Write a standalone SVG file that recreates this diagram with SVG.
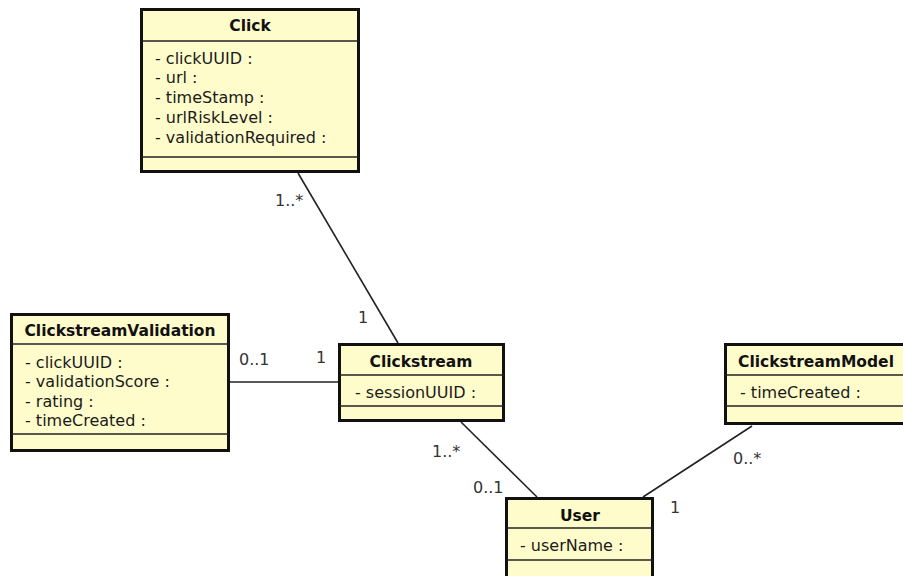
<svg xmlns="http://www.w3.org/2000/svg" width="903" height="576" viewBox="0 0 903 576">
  <style>
    .box { fill: #fffccc; stroke: #111; stroke-width: 3; }
    .div { stroke: #222; stroke-width: 1.5; }
    .title { font-family: "DejaVu Sans", "Liberation Sans", sans-serif; font-size: 15.5px; font-weight: bold; fill: #111; text-anchor: middle; }
    .attr { font-family: "DejaVu Sans", "Liberation Sans", sans-serif; font-size: 16px; fill: #1a1a1a; }
    .mult { font-family: "DejaVu Sans", "Liberation Sans", sans-serif; font-size: 16px; fill: #333; }
    .assoc { stroke: #222; stroke-width: 1.6; fill: none; }
  </style>
  <rect width="903" height="576" fill="#ffffff"/>

  <!-- associations -->
  <g id="connectors">
    <line class="assoc" x1="298" y1="173" x2="398" y2="343"/>
    <line class="assoc" x1="230" y1="382" x2="338" y2="382"/>
    <line class="assoc" x1="461" y1="422" x2="537" y2="497"/>
    <line class="assoc" x1="643" y1="497" x2="752" y2="426"/>
    <text class="mult" x="275" y="206">1..*</text>
    <text class="mult" x="358" y="323">1</text>
    <text class="mult" x="239" y="365">0..1</text>
    <text class="mult" x="316" y="363">1</text>
    <text class="mult" x="432" y="457">1..*</text>
    <text class="mult" x="473" y="493">0..1</text>
    <text class="mult" x="670" y="513">1</text>
    <text class="mult" x="733" y="464">0..*</text>
  </g>

  <g id="click">
    <rect class="box" x="141.5" y="9.5" width="217" height="162"/>
    <line class="div" x1="141.5" y1="41" x2="358.5" y2="41"/>
    <line class="div" x1="141.5" y1="157" x2="358.5" y2="157"/>
    <text class="title" x="250" y="31">Click</text>
    <text class="attr" x="155" y="64">- clickUUID :</text>
    <text class="attr" x="155" y="83">- url :</text>
    <text class="attr" x="155" y="103">- timeStamp :</text>
    <text class="attr" x="155" y="123">- urlRiskLevel :</text>
    <text class="attr" x="155" y="143">- validationRequired :</text>
  </g>

  <g id="clickstreamValidation">
    <rect class="box" x="11.5" y="314.5" width="217" height="136"/>
    <line class="div" x1="11.5" y1="344" x2="228.5" y2="344"/>
    <line class="div" x1="11.5" y1="434" x2="228.5" y2="434"/>
    <text class="title" x="120" y="336">ClickstreamValidation</text>
    <text class="attr" x="25" y="368">- clickUUID :</text>
    <text class="attr" x="25" y="387">- validationScore :</text>
    <text class="attr" x="25" y="407">- rating :</text>
    <text class="attr" x="25" y="426">- timeCreated :</text>
  </g>

  <g id="clickstream">
    <rect class="box" x="339.5" y="344.5" width="164" height="76"/>
    <line class="div" x1="339.5" y1="375" x2="503.5" y2="375"/>
    <line class="div" x1="339.5" y1="406" x2="503.5" y2="406"/>
    <text class="title" x="421" y="367">Clickstream</text>
    <text class="attr" x="355" y="398">- sessionUUID :</text>
  </g>

  <g id="clickstreamModel">
    <rect class="box" x="725.5" y="344.5" width="190" height="79"/>
    <line class="div" x1="725.5" y1="375" x2="915" y2="375"/>
    <line class="div" x1="725.5" y1="406" x2="915" y2="406"/>
    <text class="title" x="816" y="367">ClickstreamModel</text>
    <text class="attr" x="740" y="398">- timeCreated :</text>
  </g>

  <g id="user">
    <rect class="box" x="506.5" y="498.5" width="146" height="100"/>
    <line class="div" x1="506.5" y1="528" x2="652.5" y2="528"/>
    <line class="div" x1="506.5" y1="560" x2="652.5" y2="560"/>
    <text class="title" x="580" y="521">User</text>
    <text class="attr" x="520" y="551">- userName :</text>
  </g>
</svg>
